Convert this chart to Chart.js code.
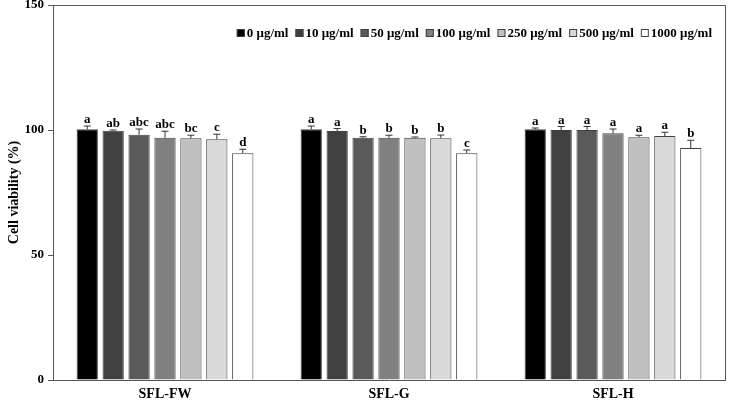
<!DOCTYPE html>
<html>
<head>
<meta charset="utf-8">
<script src="https://cdn.jsdelivr.net/npm/chart.js@4.4.1/dist/chart.umd.min.js"></script>
<style>
  html, body { margin: 0; padding: 0; background: #fff; }
  #wrap { width: 730px; height: 401px; }
</style>
</head>
<body>
<div id="wrap"><canvas id="myChart"></canvas></div>
<script>
// samples and concentrations
const groups = ['SFL-FW', 'SFL-G', 'SFL-H'];
const doses = ['0 μg/ml', '10 μg/ml', '50 μg/ml', '100 μg/ml', '250 μg/ml', '500 μg/ml', '1000 μg/ml'];
const fillColors = ['#000000', '#404040', '#5a5a5a', '#808080', '#c0c0c0', '#d9d9d9', '#ffffff'];

// viability per dose, one value per group (FW, G, H)
const viability = [
  [100.3, 100.3, 100.3],
  [99.7, 99.6, 100.0],
  [98.1, 96.9, 100.0],
  [96.9, 96.9, 98.7],
  [96.7, 96.9, 97.1],
  [96.3, 96.7, 97.6],
  [90.7, 90.7, 92.8]
];
const errors = [
  [1.3, 1.3, 0.5],
  [0.3, 1.0, 1.4],
  [2.3, 0.4, 1.4],
  [2.6, 1.0, 1.7],
  [1.2, 0.3, 0.8],
  [2.0, 1.3, 1.5],
  [1.6, 1.3, 3.1]
];
const letters = [
  ['a', 'a', 'a'],
  ['ab', 'a', 'a'],
  ['abc', 'b', 'a'],
  ['abc', 'b', 'a'],
  ['bc', 'b', 'a'],
  ['c', 'b', 'a'],
  ['d', 'c', 'b']
];
const yTicks = [0, 50, 100, 150];

const serif = '"Liberation Serif", "Times New Roman", serif';

// error bars (upper side only) + letters
const errorBarPlugin = {
  id: 'errorBars',
  afterDatasetsDraw(chart) {
    const ctx = chart.ctx;
    const y = chart.scales.y;
    ctx.save();
    chart.data.datasets.forEach((ds, i) => {
      const meta = chart.getDatasetMeta(i);
      meta.data.forEach((bar, j) => {
        const top = y.getPixelForValue(viability[i][j]);
        const cap = y.getPixelForValue(viability[i][j] + errors[i][j]);
        ctx.strokeStyle = '#333';
        ctx.lineWidth = 1;
        ctx.beginPath();
        ctx.moveTo(bar.x, top);
        ctx.lineTo(bar.x, cap);
        ctx.moveTo(bar.x - 3.5, cap);
        ctx.lineTo(bar.x + 3.5, cap);
        ctx.stroke();
        ctx.fillStyle = '#000';
        ctx.font = 'bold 13px ' + serif;
        ctx.textAlign = 'center';
        ctx.textBaseline = 'alphabetic';
        ctx.fillText(letters[i][j], bar.x, cap - 3);
      });
    });
    ctx.restore();
  }
};

// frame on top and right, legend inside the plot
const framePlugin = {
  id: 'frameLegend',
  afterDraw(chart) {
    const ctx = chart.ctx;
    const a = chart.chartArea;
    ctx.save();
    ctx.strokeStyle = '#555';
    ctx.lineWidth = 1;
    ctx.beginPath();
    ctx.moveTo(a.left, a.top + 0.5);
    ctx.lineTo(a.right + 0.5, a.top + 0.5);
    ctx.lineTo(a.right + 0.5, a.bottom);
    ctx.stroke();

    ctx.font = 'bold 13px ' + serif;
    ctx.textBaseline = 'middle';
    ctx.textAlign = 'left';
    const box = 8, gapBox = 2, gapItem = 7;
    let widths = doses.map(d => box + gapBox + ctx.measureText(d).width);
    let total = widths.reduce((s, w) => s + w, 0) + gapItem * (doses.length - 1);
    let x = 712 - total;
    const yc = 33;
    doses.forEach((d, i) => {
      ctx.fillStyle = fillColors[i];
      ctx.fillRect(x, yc - box / 2, box, box);
      ctx.strokeStyle = '#404040';
      ctx.strokeRect(x + 0.5, yc - box / 2 + 0.5, box - 1, box - 1);
      ctx.fillStyle = '#000';
      ctx.fillText(d, x + box + gapBox, yc + 1);
      x += widths[i] + gapItem;
    });
    ctx.restore();
  }
};

const datasets = doses.map((d, i) => ({
  label: d,
  data: viability[i],
  backgroundColor: fillColors[i],
  borderColor: '#404040',
  borderWidth: 1,
  categoryPercentage: 0.81,
  barPercentage: 0.82
}));

const ctx = document.getElementById('myChart').getContext('2d');
new Chart(ctx, {
  type: 'bar',
  data: { labels: groups, datasets: datasets },
  options: {
    responsive: true,
    maintainAspectRatio: false,
    animation: false,
    layout: { padding: { top: 5, right: 5, left: 0, bottom: 0 } },
    plugins: {
      legend: { display: false },
      tooltip: { enabled: false }
    },
    scales: {
      x: {
        grid: { display: false, drawTicks: false },
        border: { color: '#555', width: 1 },
        ticks: {
          color: '#000',
          padding: 6,
          font: { family: serif, size: 14, weight: 'bold' }
        },
        afterFit(scale) { scale.height = 21; }
      },
      y: {
        min: 0,
        max: 150,
        afterBuildTicks(scale) { scale.ticks = yTicks.map(v => ({ value: v })); },
        grid: { drawOnChartArea: false, tickLength: 5, color: '#555' },
        border: { color: '#555', width: 1 },
        ticks: {
          color: '#000',
          padding: 4,
          font: { family: serif, size: 13, weight: 'bold' }
        },
        title: {
          display: true,
          text: 'Cell viability (%)',
          color: '#000',
          padding: { top: 6, bottom: 0 },
          font: { family: serif, size: 14, weight: 'bold' }
        },
        afterFit(scale) {
          scale.width = 53;
          scale.paddingTop = 0;
          scale.paddingBottom = 0;
        }
      }
    }
  },
  plugins: [errorBarPlugin, framePlugin]
});
</script>
</body>
</html>
